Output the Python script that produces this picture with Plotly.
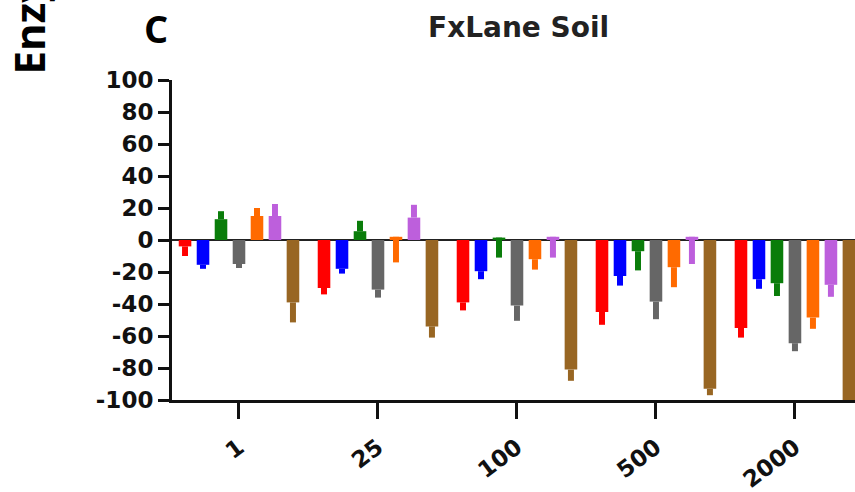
import plotly.graph_objects as go

# Dose categories on the x axis
doses = ["1", "25", "100", "500", "2000"]

# Mean change (%) per treatment at each dose
red_mean = [-4, -30, -39, -45, -55]
blue_mean = [-15.5, -18, -19.5, -22.5, -24.5]
green_mean = [13, 5.5, 1.5, -7, -27]
gray_mean = [-15, -31, -41, -38.5, -64.5]
orange_mean = [15, 2, -12, -17, -48.5]
purple_mean = [15, 14, 2, 2, -28]
brown_mean = [-39, -54, -81, -93, -104]

# One-sided error bar extent (signed: + draws upward, - draws downward)
red_err = [-6, -4, -5, -8, -6]
blue_err = [-2.5, -3, -5, -6, -6]
green_err = [5, 6.5, -12.5, -12, -8]
gray_err = [-2.5, -5, -9.5, -11, -5]
orange_err = [5, -16, -6.5, -12.5, -7]
purple_err = [7.5, 8, -13, -17, -7.5]
brown_err = [-12.5, -7, -7, -4, -5]

y_ticks = [100, 80, 60, 40, 20, 0, -20, -40, -60, -80, -100]

series = [
    ("Red", "#FF0000", red_mean, red_err),
    ("Blue", "#0000FF", blue_mean, blue_err),
    ("Green", "#0A7D0A", green_mean, green_err),
    ("Gray", "#666666", gray_mean, gray_err),
    ("Orange", "#FF6A00", orange_mean, orange_err),
    ("Purple", "#BD5FDC", purple_mean, purple_err),
    ("Brown", "#986623", brown_mean, brown_err),
]

fig = go.Figure()
for name, color, means, errs in series:
    up = [e if e > 0 else 0 for e in errs]
    down = [-e if e < 0 else 0 for e in errs]
    fig.add_trace(go.Bar(
        x=doses, y=means, name=name,
        marker=dict(color=color, line=dict(width=0)),
        error_y=dict(type="data", symmetric=False, array=up, arrayminus=down,
                     color=color, thickness=6, width=0),
    ))

axis_color = "#111111"

fig.update_layout(
    width=855, height=492,
    margin=dict(l=172, r=0, t=80, b=92),
    paper_bgcolor="white", plot_bgcolor="white",
    barmode="group", bargap=0.094, bargroupgap=0.3,
    showlegend=False,
    xaxis=dict(
        type="category", range=[-0.482, 4.432],
        showline=True, linecolor=axis_color, linewidth=3,
        ticks="outside", ticklen=16, tickwidth=3, tickcolor=axis_color,
        tickangle=-37, ticklabelstandoff=6,
        tickfont=dict(family="DejaVu Sans", size=23, color="#111111", weight="bold"),
        showgrid=False, zeroline=False,
    ),
    yaxis=dict(
        range=[-100, 100],
        tickvals=y_ticks, ticktext=[str(v) for v in y_ticks],
        showline=True, linecolor=axis_color, linewidth=3,
        ticks="outside", ticklen=11, tickwidth=3, tickcolor=axis_color,
        tickfont=dict(family="DejaVu Sans", size=23, color="#111111", weight="bold"),
        showgrid=False, zeroline=True, zerolinecolor="#222222", zerolinewidth=2,
    ),
    annotations=[
        dict(text="FxLane Soil", xref="paper", yref="paper",
             x=0.5066, y=1.165, xanchor="center", yanchor="middle",
             showarrow=False,
             font=dict(family="DejaVu Sans", size=28, color="#222222", weight="bold")),
        dict(text="C", xref="paper", yref="paper",
             x=-0.0234, y=1.1625, xanchor="center", yanchor="middle",
             showarrow=False,
             font=dict(family="Open Sans", size=38, color="#000000", weight="bold")),
        dict(text="Enzyme activity (% change)", xref="paper", yref="paper",
             x=-0.2096, y=1.0106, xanchor="center", yanchor="bottom",
             textangle=-90, showarrow=False,
             font=dict(family="Open Sans", size=42, color="#000000", weight="bold")),
    ],
)

fig.write_html("out.html")
